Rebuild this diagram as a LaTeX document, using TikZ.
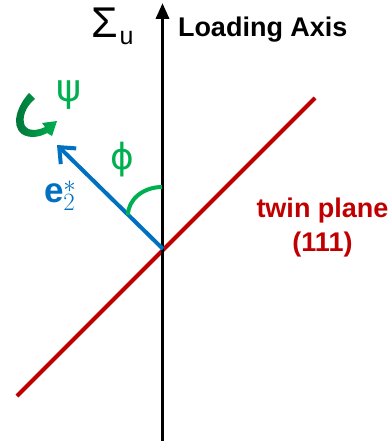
\documentclass[tikz,border=0pt]{standalone}
\usepackage{fontspec}
\setmainfont{Liberation Sans}
\newfontfamily\grkfont{DejaVu Sans}
\usetikzlibrary{arrows.meta}
\definecolor{tred}{RGB}{192,0,0}
\definecolor{eblue}{RGB}{0,112,192}
\definecolor{agreen}{RGB}{0,176,80}
\definecolor{dkgreen}{RGB}{0,110,55}
\begin{document}
\begin{tikzpicture}[x=1pt,y=-1pt,
  lbl/.style={inner sep=0pt, outer sep=0pt},
  axisline/.style={line width=3.5pt, black, -{Triangle[length=16pt,width=13pt]}},
  planeline/.style={line width=4pt, tred},
  vecline/.style={line width=4pt, eblue, -{Straight Barb[length=13pt,width=22pt]}},
  anglearc/.style={line width=4pt, agreen}]
\useasboundingbox (0,0) rectangle (390,441);
% coordinates
\coordinate (axbot) at (162.5,441);
\coordinate (axtop) at (162.5,3);
\coordinate (rlo) at (17,396);
\coordinate (rhi) at (315,98);
\coordinate (o) at (163,249);
\coordinate (etip) at (57,145);
\coordinate (arcstart) at (128,215);
% lines
\draw[planeline] (rlo) -- (rhi);
\draw[axisline] (axbot) -- (axtop);
\draw[vecline] (o) -- (etip);
\draw[anglearc] (arcstart) arc[start angle=180, end angle=90, x radius=34pt, y radius=28pt];
% rotation arrow
\shade[left color=dkgreen, right color=agreen]
  (29,93) .. controls (18,105) and (10,125) .. (22,134)
  .. controls (30,139) and (40,137) .. (47,133)
  -- (52,136) -- (57,121) -- (42,123) -- (45,127)
  .. controls (37,131) and (28,131) .. (25,126)
  .. controls (21,118) and (26,106) .. (35,99) -- cycle;
% labels
\node[lbl, font=\fontsize{43}{43}\selectfont] (sig) at (105,23) {Σ};
\node[lbl, font=\fontsize{25}{25}\selectfont] (sigu) at (126.5,38.5) {u};
\node[lbl, anchor=base west, font=\fontsize{27}{27}\selectfont\bfseries] (load) at (178,37) {Loading Axis};
\node[lbl, anchor=base, text=tred, font=\fontsize{27}{27}\selectfont\bfseries] (twin) at (322.5,217) {twin plane};
\node[lbl, anchor=base, text=tred, font=\fontsize{27}{27}\selectfont\bfseries] (miller) at (322.5,251) {(111)};
\node[lbl, text=agreen, font=\grkfont\fontsize{36}{36}\selectfont] (phi) at (122,160) {ϕ};
\node[lbl, text=agreen, font=\grkfont\fontsize{38}{38}\selectfont] (psi) at (69,95) {ψ};
\node[lbl, anchor=base west, text=eblue, font=\fontsize{35}{35}\selectfont] (evec) at (44,202) {$\mathbf{e}_2^*$};
\end{tikzpicture}
\end{document}
